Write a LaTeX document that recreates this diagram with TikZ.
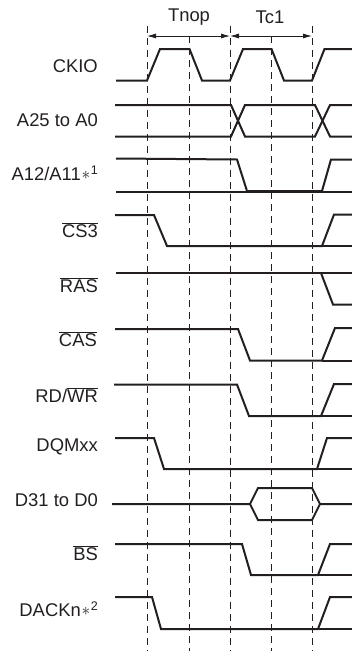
\documentclass[tikz,border=0pt]{standalone}
\usepackage{fontspec}
\setmainfont{Liberation Sans}
\usepackage{tikz}
\usetikzlibrary{arrows.meta}
\definecolor{ink}{HTML}{231F20}
\newcommand{\sigbar}[1]{$\overline{\hbox{#1}}$}
\newcommand{\starnote}[1]{\kern0.8pt\raisebox{0.5pt}{$\ast$}\kern0.6pt\raisebox{5.5pt}{\fontsize{12.5}{13}\selectfont #1}}

\begin{document}
\begin{tikzpicture}[
  x=1pt, y=-1pt,
  signame/.style={anchor=east, inner sep=0pt, text=ink, font=\fontsize{18.4}{21}\selectfont},
  period/.style={inner sep=0pt, text=ink, font=\fontsize{18.4}{21}\selectfont},
  wave/.style={line width=2pt, color=ink, line join=miter},
  guide/.style={line width=0.9pt, color=ink, dash pattern=on 6.5pt off 5.5pt},
  span/.style={{Latex[length=9pt,width=5pt]}-{Latex[length=9pt,width=5pt]}, line width=0.8pt, color=ink}
]
  \useasboundingbox (0,0) rectangle (352,651);

  % clock edges
  \coordinate (t0) at (147,26);
  \coordinate (t1) at (189.5,36);
  \coordinate (t2) at (230,26);
  \coordinate (t3) at (271.5,36);
  \coordinate (t4) at (312,26);
  \foreach \edge in {t0,t1,t2,t3,t4}
    \draw[guide] (\edge) -- (\edge |- 0,651);

  \coordinate (s0) at (147,36);
  \coordinate (s1) at (230,36);
  \coordinate (s2) at (312,36);
  \draw[span] (s0) -- (s1);
  \draw[span] (s1) -- (s2);
  \node[period] (tnop) at (189,17.5) {Tnop};
  \node[period] (tc1) at (270,17.5) {Tc1};

  % signal names
  \node[signame] (ckio) at (98,66) {CKIO};
  \node[signame] (addr) at (98,120.5) {A25 to A0};
  \node[signame] (a12) at (98,173.5) {A12/A11\starnote{1}};
  \node[signame] (cs) at (98,230) {\sigbar{CS3}};
  \node[signame] (ras) at (98,285) {\sigbar{RAS}};
  \node[signame] (cas) at (97,339) {\sigbar{CAS}};
  \node[signame] (rdwr) at (98,395) {RD/\sigbar{WR}};
  \node[signame] (dqm) at (98,447) {DQMxx};
  \node[signame] (data) at (98,500) {D31 to D0};
  \node[signame] (bs) at (98,553) {\sigbar{BS}};
  \node[signame] (dack) at (98,609) {DACKn\starnote{2}};

  % waveforms
  \draw[wave] (116,80.5) -- (147,80.5) -- (160,49) -- (189.5,49) -- (202,80.5) -- (230,80.5) -- (243,49) -- (271.5,49) -- (284,80.5) -- (312,80.5) -- (324.5,49) -- (352,49);

  \draw[wave] (115,105) -- (231,105) -- (245,136.5) -- (315,136.5) -- (330,105) -- (352,105);
  \draw[wave] (115,136.5) -- (231,136.5) -- (245,105) -- (315,105) -- (330,136.5) -- (352,136.5);

  \draw[wave] (116,158.5) -- (237,159.5) -- (247,191) -- (322,191) -- (331,159.5) -- (352,159.5);
  \draw[wave] (116,191.5) -- (352,191.5);

  \draw[wave] (115,215) -- (154,215) -- (167,246) -- (322,246) -- (334,214.5) -- (352,214.5);
  \draw[wave] (322,246) -- (352,246);

  \draw[wave] (116,273) -- (352,273);
  \draw[wave] (321,273) -- (333,304.5) -- (352,304.5);

  \draw[wave] (115,329) -- (238,329) -- (250,360.5) -- (322,360.5) -- (335,328) -- (352,328);
  \draw[wave] (322,360.5) -- (352,360.5);

  \draw[wave] (114,384.5) -- (237,384.5) -- (249,416) -- (321,416) -- (334,384) -- (352,384);
  \draw[wave] (321,416) -- (352,416);

  \draw[wave] (115,438) -- (154,438) -- (164,469) -- (317,469) -- (327,438) -- (352,438);
  \draw[wave] (317,469) -- (352,469);

  \draw[wave] (112,504) -- (250,504) -- (258,488) -- (312,488) -- (320,504) -- (352,504);
  \draw[wave] (250,504) -- (258,520) -- (312,520) -- (320,504);

  \draw[wave] (115,544) -- (242,544) -- (251,575) -- (318,575) -- (330,544) -- (352,544);
  \draw[wave] (318,575) -- (352,575);

  \draw[wave] (115,597) -- (152,597) -- (161,629) -- (318,629) -- (330,597) -- (352,597);
  \draw[wave] (318,629) -- (352,629);
\end{tikzpicture}
\end{document}
